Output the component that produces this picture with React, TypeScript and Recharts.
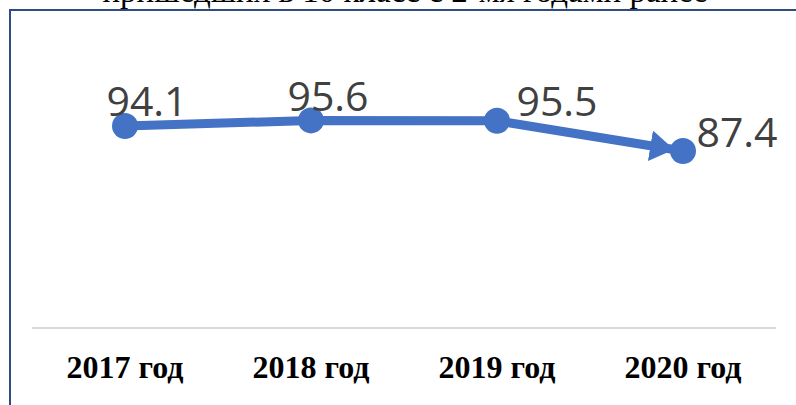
import { LineChart, Line, XAxis, YAxis, LabelList } from 'recharts';

const years = ['2017 год', '2018 год', '2019 год', '2020 год'];
const values = [94.1, 95.6, 95.5, 87.4];
const titleLine = 'пришедших в 10 класс с 2-мя годами ранее';

const data = years.map((year, i) => ({ year, value: values[i] }));

const BLUE = '#4472C4';

// сдвиги подписей относительно точки (центр текста, базовая линия)
const labelShift = [
  { dx: 22, dy: -10 },
  { dx: 17, dy: -9 },
  { dx: 60, dy: -5 },
  { dx: 54, dy: -4 },
];

const ValueLabel = (props: any) => {
  const { x, y, value, index } = props;
  const s = labelShift[index] || { dx: 0, dy: -10 };
  return (
    <text
      x={x + s.dx}
      y={y + s.dy}
      textAnchor="middle"
      fontFamily="'Open Sans', sans-serif"
      fontSize={41}
      fill="#404040"
    >
      {value}
    </text>
  );
};

const YearTick = (props: any) => {
  const { x, y, payload } = props;
  return (
    <text
      x={x}
      y={y + 42}
      textAnchor="middle"
      fontFamily="'Liberation Serif', serif"
      fontWeight="bold"
      fontSize={32}
      fill="#000"
    >
      {payload.value}
    </text>
  );
};

const Dot = (props: any) => {
  const { cx, cy, index } = props;
  return <circle key={`dot-${index}`} cx={cx} cy={cy} r={13} fill={BLUE} />;
};

const App = () => {
  return (
    <div
      style={{
        position: 'fixed',
        left: 0,
        top: 0,
        width: 796,
        height: 405,
        overflow: 'hidden',
        background: '#fff',
      }}
    >
      {/* обрезанный заголовок сверху */}
      <svg width={796} height={20} style={{ position: 'absolute', left: 0, top: 0 }}>
        <text
          x={405}
          y={2}
          textAnchor="middle"
          fontFamily="'Liberation Serif', serif"
          fontSize={33}
          fill="#000"
        >
          {titleLine}
        </text>
      </svg>

      {/* рамка диаграммы */}
      <div
        style={{
          position: 'absolute',
          left: 9,
          top: 9,
          width: 820,
          height: 420,
          borderLeft: '2px solid #2E4C7E',
          borderTop: '2px solid #2E4C7E',
        }}
      />

      <div style={{ position: 'absolute', left: 0, top: 0 }}>
        <LineChart
          width={796}
          height={405}
          data={data}
          margin={{ top: 104, right: 20, bottom: 27, left: 32 }}
        >
          <defs>
            <marker
              id="arrowEnd"
              markerUnits="userSpaceOnUse"
              markerWidth={26}
              markerHeight={32}
              refX={33}
              refY={15.5}
              orient="auto"
            >
              <path d="M0,0 L24,15.5 L0,31 z" fill={BLUE} />
            </marker>
          </defs>
          <XAxis
            dataKey="year"
            height={50}
            padding={{ left: 93, right: 93 }}
            axisLine={{ stroke: '#d9d9d9', strokeWidth: 2 }}
            tickLine={false}
            tick={<YearTick />}
            interval={0}
          />
          <YAxis hide domain={[40, 100]} />
          <Line
            dataKey="value"
            stroke={BLUE}
            strokeWidth={9}
            markerEnd="url(#arrowEnd)"
            dot={<Dot />}
            activeDot={false}
            isAnimationActive={false}
          >
            <LabelList dataKey="value" content={<ValueLabel />} />
          </Line>
        </LineChart>
      </div>
    </div>
  );
};

export default App;
